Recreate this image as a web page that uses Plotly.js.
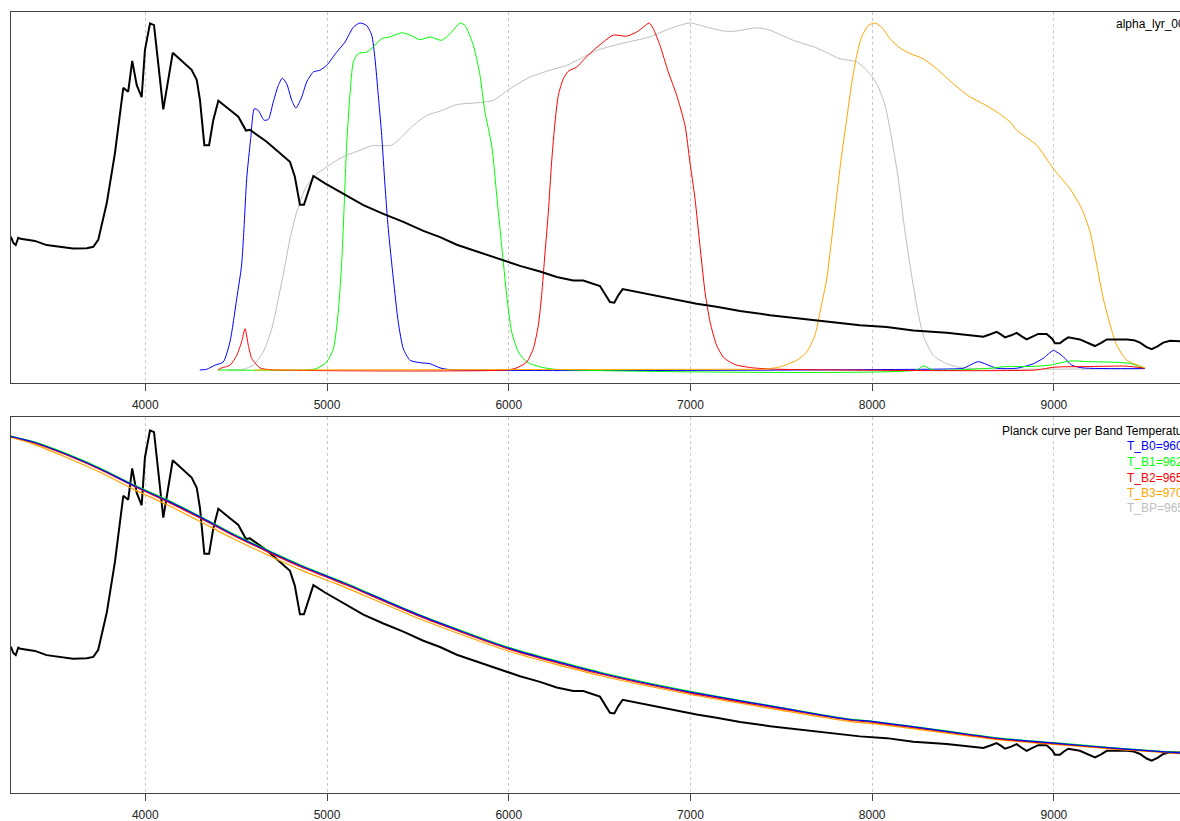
<!DOCTYPE html>
<html>
<head>
<meta charset="utf-8">
<script src="https://cdn.plot.ly/plotly-3.0.1.min.js"></script>
<style>
html,body{margin:0;padding:0;overflow:hidden;background:#fff;}
#chart{width:1240px;height:821px;}
</style>
</head>
<body>
<div id="chart"></div>
<script>
// Black spectrum (alpha_lyr), relative flux
const specWave = [3260,3274,3287,3301,3314,3347,3393,3457,3531,3602,3678,3714,3741,3788,3833,3879,3906,3928,3953,3980,3998,4026,4048,4099,4151,4209,4255,4283,4301,4325,4351,4374,4402,4466,4512,4554,4576,4668,4796,4823,4851,4873,4925,4989,5090,5200,5310,5420,5530,5622,5714,5860,5970,6062,6172,6264,6355,6410,6502,6530,6557,6581,6603,6627,6704,6814,6924,7034,7144,7273,7438,7603,7768,7933,8080,8226,8410,8612,8650,8685,8710,8731,8765,8795,8825,8850,8885,8914,8960,8990,9006,9033,9055,9079,9143,9190,9226,9260,9291,9401,9440,9474,9510,9538,9570,9602,9639,9694,9860];
const specFlux = [0.384,0.366,0.360,0.381,0.378,0.375,0.372,0.360,0.354,0.350,0.351,0.355,0.375,0.481,0.625,0.813,0.802,0.891,0.821,0.786,0.922,0.999,0.994,0.751,0.914,0.888,0.865,0.836,0.778,0.648,0.648,0.720,0.776,0.749,0.730,0.690,0.692,0.658,0.600,0.557,0.476,0.476,0.559,0.538,0.508,0.475,0.450,0.427,0.401,0.383,0.361,0.335,0.316,0.300,0.284,0.268,0.258,0.258,0.242,0.220,0.196,0.194,0.215,0.233,0.225,0.213,0.201,0.191,0.182,0.170,0.158,0.148,0.138,0.129,0.124,0.114,0.107,0.096,0.103,0.110,0.102,0.094,0.100,0.107,0.096,0.088,0.097,0.104,0.104,0.090,0.077,0.077,0.086,0.094,0.088,0.077,0.069,0.078,0.088,0.088,0.086,0.079,0.066,0.060,0.068,0.079,0.084,0.083,0.083];

// Filter transmissions
const b0Wave = [4300,4338,4384,4429,4466,4503,4530,4543,4558,4580,4600,4622,4653,4677,4704,4732,4754,4778,4806,4829,4861,4888,4925,4961,4998,5053,5099,5145,5181,5218,5246,5264,5282,5301,5319,5337,5365,5392,5420,5457,5512,5567,5622,5677,8428,8501,8584,8648,8685,8795,8887,8942,8997,9052,9098,9160,9501];
const b0Trans = [0.000,0.002,0.014,0.023,0.081,0.205,0.302,0.407,0.551,0.667,0.753,0.748,0.720,0.722,0.772,0.820,0.841,0.825,0.777,0.755,0.787,0.830,0.859,0.864,0.878,0.916,0.945,0.988,1.000,0.993,0.965,0.897,0.792,0.676,0.532,0.407,0.263,0.138,0.061,0.028,0.021,0.018,0.006,0.001,0.003,0.005,0.024,0.012,0.005,0.005,0.018,0.034,0.056,0.038,0.014,0.006,0.004];

const b1Wave = [4400,4888,4943,4998,5035,5062,5081,5093,5108,5126,5145,5172,5218,5255,5301,5347,5411,5457,5512,5567,5631,5677,5732,5759,5805,5842,5869,5906,5934,5961,5989,6016,6053,6099,6172,6255,8245,8281,8336,8648,8740,8868,8979,9089,9199,9346,9419,9492];
const b1Trans = [0.000,0.000,0.004,0.023,0.061,0.167,0.311,0.455,0.648,0.792,0.888,0.912,0.916,0.931,0.955,0.960,0.972,0.965,0.952,0.960,0.950,0.969,1.000,0.993,0.936,0.849,0.744,0.648,0.503,0.359,0.215,0.110,0.052,0.023,0.009,0.002,0.000,0.012,0.000,0.005,0.010,0.010,0.014,0.026,0.024,0.022,0.019,0.006];

const b2Wave = [4400,4411,4466,4503,4530,4549,4567,4586,4631,4686,5989,6044,6099,6135,6163,6181,6200,6218,6236,6255,6273,6300,6328,6374,6410,6465,6520,6575,6649,6704,6740,6773,6795,6832,6878,6924,6970,6997,7025,7052,7080,7108,7144,7181,7218,7254,7346,7493,8900,9000,9200,9400,9500];
const b2Trans = [0.000,0.004,0.014,0.042,0.081,0.119,0.071,0.033,0.006,0.001,0.000,0.006,0.023,0.061,0.129,0.215,0.340,0.455,0.599,0.715,0.792,0.839,0.861,0.873,0.893,0.921,0.945,0.965,0.962,0.974,0.988,1.000,0.984,0.936,0.859,0.792,0.705,0.599,0.494,0.359,0.225,0.138,0.071,0.037,0.023,0.014,0.006,0.002,0.000,0.008,0.010,0.011,0.005];

const b3Wave = [4600,7273,7401,7493,7585,7640,7685,7713,7750,7777,7805,7832,7860,7887,7915,7942,7979,8016,8052,8098,8153,8208,8281,8355,8446,8538,8611,8685,8758,8795,8905,8997,9089,9153,9199,9236,9272,9310,9346,9401,9456,9501];
const b3Trans = [0.000,0.002,0.002,0.009,0.028,0.052,0.100,0.167,0.263,0.378,0.503,0.619,0.724,0.825,0.907,0.960,0.993,1.000,0.988,0.955,0.928,0.912,0.897,0.868,0.825,0.787,0.767,0.744,0.715,0.691,0.648,0.580,0.522,0.465,0.398,0.302,0.205,0.129,0.071,0.028,0.015,0.006];

const bpWave = [4450,4539,4594,4649,4696,4732,4769,4796,4833,4879,4934,4998,5053,5108,5181,5246,5356,5402,5475,5549,5622,5714,5824,5915,6007,6117,6227,6319,6392,6484,6612,6777,6887,6997,7089,7181,7236,7365,7438,7566,7695,7823,7915,7970,8025,8071,8107,8144,8171,8208,8245,8281,8336,8410,8501,9501];
const bpTrans = [0.000,0.002,0.014,0.052,0.119,0.205,0.302,0.378,0.455,0.522,0.561,0.585,0.604,0.619,0.633,0.646,0.648,0.667,0.705,0.734,0.746,0.765,0.770,0.777,0.811,0.844,0.864,0.878,0.897,0.921,0.940,0.960,0.984,1.000,0.988,0.977,0.976,0.986,0.979,0.950,0.928,0.897,0.888,0.864,0.825,0.763,0.667,0.551,0.436,0.302,0.186,0.100,0.042,0.018,0.006,0.004];

// Planck curves per band temperature (same flux scale as spectrum)
const planckWave = [3260,3384,3567,3751,3934,4118,4301,4484,4668,4851,5035,5126,5500,6000,6500,7000,7500,7878,8006,8428,8703,9002,9346,9693,9860];
const planckB0 = [0.982,0.966,0.931,0.890,0.843,0.800,0.753,0.703,0.658,0.615,0.577,0.558,0.475,0.380,0.310,0.255,0.210,0.177,0.171,0.142,0.123,0.110,0.095,0.082,0.077];
const planckB1 = [0.983,0.967,0.933,0.892,0.845,0.802,0.755,0.705,0.660,0.617,0.579,0.560,0.477,0.382,0.312,0.257,0.211,0.178,0.172,0.143,0.124,0.111,0.096,0.083,0.078];
const planckB2 = [0.981,0.964,0.929,0.888,0.841,0.797,0.750,0.700,0.655,0.612,0.574,0.555,0.472,0.377,0.307,0.252,0.207,0.175,0.169,0.140,0.121,0.108,0.094,0.081,0.076];
const planckB3 = [0.979,0.960,0.922,0.880,0.832,0.788,0.740,0.691,0.646,0.603,0.566,0.547,0.465,0.371,0.302,0.248,0.203,0.171,0.165,0.137,0.119,0.106,0.092,0.080,0.075];
const planckBP = [0.981,0.965,0.930,0.889,0.842,0.798,0.751,0.701,0.656,0.613,0.575,0.556,0.473,0.378,0.308,0.253,0.208,0.176,0.170,0.141,0.122,0.109,0.094,0.081,0.076];

const xTicks = [4000,5000,6000,7000,8000,9000];
const spectrumName = "alpha_lyr_005";
const legendTitle = "Planck curve per Band Temperature";
const bandLabels = ["T_B0=9603K","T_B1=9628K","T_B2=9654K","T_B3=9705K","T_BP=9659K"];

const cBlue="#0000FF", cGreen="#00FF00", cRed="#FF0000", cOrange="#FFA500", cGrey="#BEBEBE";
const font = "Liberation Sans, Arial, Helvetica, sans-serif";

function ln(x,y,color,w,xa,ya,smooth){
  const line = {color:color,width:w};
  if(smooth){line.shape='spline';line.smoothing=0.6;}
  return {x:x,y:y,type:'scatter',mode:'lines',line:line,xaxis:xa,yaxis:ya,hoverinfo:'skip'};
}

const traces = [
  ln(bpWave,bpTrans,cGrey,1,'x','y',true),
  ln(b0Wave,b0Trans,cBlue,1,'x','y',true),
  ln(b1Wave,b1Trans,cGreen,1,'x','y',true),
  ln(b2Wave,b2Trans,cRed,1,'x','y',true),
  ln(b3Wave,b3Trans,cOrange,1,'x','y',true),
  ln(specWave,specFlux,'#000000',2,'x','y',false),
  ln(specWave,specFlux,'#000000',2,'x2','y2',false),
  ln(planckWave,planckBP,cGrey,1.2,'x2','y2',true),
  ln(planckWave,planckB3,cOrange,1.2,'x2','y2',true),
  ln(planckWave,planckB2,cRed,1.2,'x2','y2',true),
  ln(planckWave,planckB1,cGreen,1.2,'x2','y2',true),
  ln(planckWave,planckB0,cBlue,1.2,'x2','y2',true)
];

const xax = {
  range:[3261,9859], tickmode:'array', tickvals:xTicks, ticktext:xTicks.map(String),
  ticks:'outside', ticklen:7, tickcolor:'#444', tickwidth:1,
  showgrid:true, gridcolor:'#c8c8c8', griddash:'dot', gridwidth:1,
  showline:true, mirror:true, linecolor:'#444', linewidth:1, zeroline:false,
  tickfont:{family:font,size:12,color:'#222'}, ticklabelstandoff:4
};
const yax = {
  showticklabels:false, ticks:'', showgrid:false, zeroline:false,
  showline:true, mirror:true, linecolor:'#444', linewidth:1
};

function px2x(px){return (px-11)/1199;}
function py2y(py){return (793-py)/781;}

const annotations = [
  {text:spectrumName, x:px2x(1115), y:py2y(24), color:'#000'},
  {text:legendTitle, x:px2x(1001), y:py2y(431), color:'#000'},
  {text:bandLabels[0], x:px2x(1126), y:py2y(446), color:cBlue},
  {text:bandLabels[1], x:px2x(1126), y:py2y(462), color:cGreen},
  {text:bandLabels[2], x:px2x(1126), y:py2y(477.5), color:cRed},
  {text:bandLabels[3], x:px2x(1126), y:py2y(492.5), color:cOrange},
  {text:bandLabels[4], x:px2x(1126), y:py2y(508), color:cGrey}
].map(a=>({text:a.text,x:a.x,y:a.y,xref:'paper',yref:'paper',xanchor:'left',yanchor:'middle',showarrow:false,borderpad:0,font:{family:font,size:12,color:a.color}}));

const layout = {
  width:1240, height:821,
  margin:{l:11,r:30,t:12,b:28},
  paper_bgcolor:'#fff', plot_bgcolor:'#fff',
  showlegend:false,
  xaxis:Object.assign({},xax,{anchor:'y',domain:[0,1]}),
  xaxis2:Object.assign({},xax,{anchor:'y2',domain:[0,1]}),
  yaxis:Object.assign({},yax,{anchor:'x',domain:[0.52497,1],range:[-0.0375,1.0317]}),
  yaxis2:Object.assign({},yax,{anchor:'x2',domain:[0,0.48143],range:[-0.032,1.037]}),
  annotations:annotations
};

Plotly.newPlot('chart',traces,layout,{displayModeBar:false,staticPlot:true});
</script>
</body>
</html>
